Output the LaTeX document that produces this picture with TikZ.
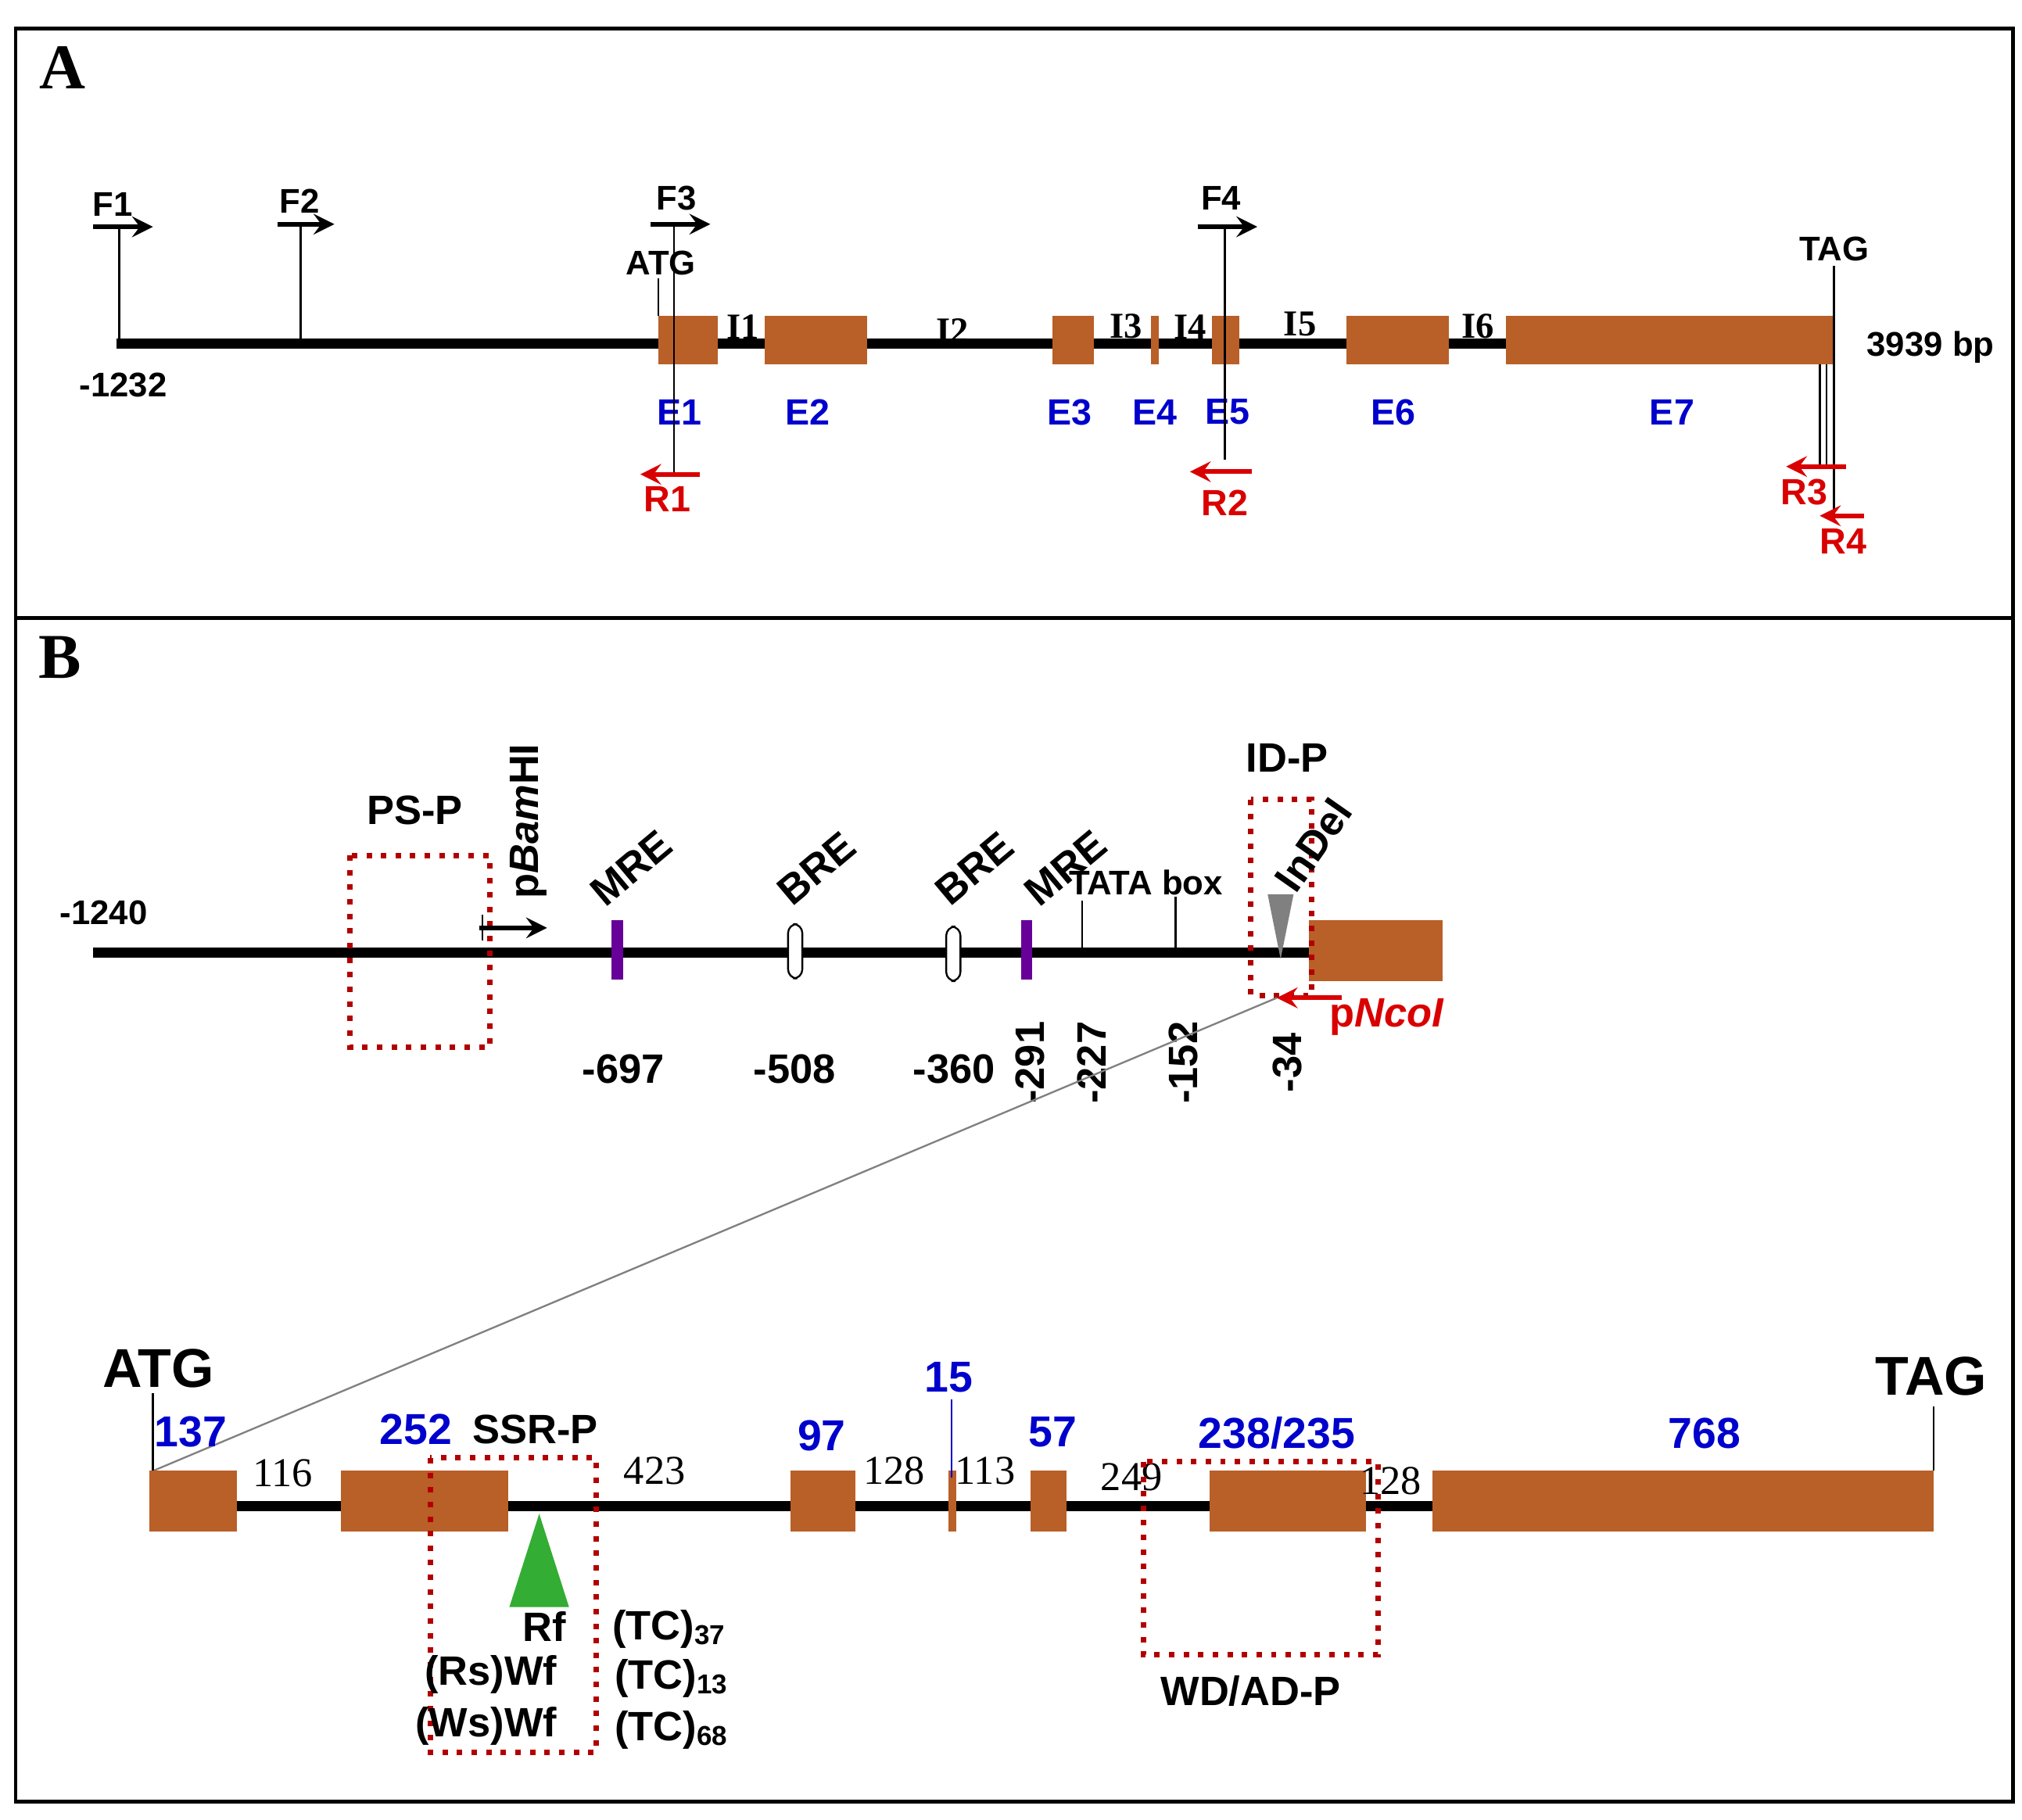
\documentclass[tikz,border=0pt]{standalone}
\usepackage{fontspec}
\setmainfont{Liberation Sans}
\newfontfamily\seriffont{Liberation Serif}
\begin{document}
\begin{tikzpicture}[x=0.01cm,y=-0.01cm,
  bl/.style={font=\bfseries\fontsize{7.5}{9}\selectfont},
  blb/.style={font=\bfseries\fontsize{9}{10}\selectfont},
  blue/.style={font=\bfseries\fontsize{8}{9}\selectfont, text=blue!80!black},
  blueb/.style={font=\bfseries\fontsize{9.5}{11}\selectfont, text=blue!80!black},
  intr/.style={font=\seriffont\bfseries\fontsize{8}{9}\selectfont},
  red/.style={font=\bfseries\fontsize{8}{9}\selectfont, text=red!85!black},
  dbox/.style={draw=red!70!black, dotted, line width=1.2pt},
  fw/.style={-stealth, line width=1pt},
  rv/.style={-stealth, line width=1pt, draw=red!85!black},
  gl/.style={line width=2.2pt}]
\definecolor{ex}{RGB}{185,95,40}
\useasboundingbox (0,0) rectangle (1560,1404);
\draw[line width=0.8pt] (12,22) rectangle (1553,1390);
\draw[line width=0.8pt] (12,477) -- (1553,477);
\node[font=\seriffont\bfseries\fontsize{14}{15}\selectfont] (A) at (48,52) {A};
\node[font=\seriffont\bfseries\fontsize{14}{15}\selectfont] (B) at (46,507) {B};
% ---------------- Panel A
\draw[gl] (90,265) -- (1415,265);
\foreach \a/\b in {508/554,590/669,812/844,888/894,935/956,1039/1118,1162/1415}
  \fill[ex] (\a,244) rectangle (\b,281);
\foreach \x/\t in {524/E1,623/E2,825/E3,891/E4,947/E5,1075/E6,1290/E7}
  \node[blue] at (\x,318) {\t};
\foreach \x/\y/\t in {573/252/I1,735/255/I2,869/252/I3,918/252/I4,1003/250/I5,1140/252/I6}
  \node[intr] at (\x,\y) {\t};
\node[bl] (m1232) at (95,297) {-1232};
\node[bl,anchor=east] (bp) at (1551,268) {3939 bp};
% F1 F2
\draw (92,175) -- (92,265); \draw[fw] (72,175) -- (118,175); \node[bl] at (87,158) {F1};
\draw (232,173) -- (232,265); \draw[fw] (214,173) -- (258,173); \node[bl] at (231,155) {F2};
% F3 / ATG / R1
\draw (520,173) -- (520,366); \draw[fw] (502,173) -- (548,173); \node[bl] at (522,153) {F3};
\draw (508,215) -- (508,244); \node[bl] at (510,203) {ATG};
\draw[rv] (540,366) -- (494,366); \node[red] at (515,385) {R1};
% F4 / R2
\draw (945,173) -- (945,355); \draw[fw] (924,175) -- (970,175); \node[bl] at (942,153) {F4};
\draw[rv] (966,364) -- (918,364); \node[red] at (945,388) {R2};
% TAG R3 R4
\draw (1415,205) -- (1415,398); \node[bl] at (1415,192) {TAG};
\draw (1404,281) -- (1404,360); \draw (1409,281) -- (1409,360);
\draw[rv] (1424,360) -- (1378,360); \node[red] at (1392,380) {R3};
\draw[rv] (1438,398) -- (1404,398); \node[red] at (1422,418) {R4};
% ---------------- Panel B promoter
\draw[gl] (72,735) -- (1010,735);
\fill[ex] (1010,710) rectangle (1113,757);
\node[bl] at (80,704) {-1240};
\draw[dbox] (270,660) rectangle (378,808); \node[blb] at (320,625) {PS-P};
\draw (372,706) -- (372,726); \draw[fw] (370,716) -- (422,716);
\node[blb,rotate=90,anchor=west] at (408,706) {p\textit{Bam}HI};
\fill[violet!80!blue] (472,710) rectangle (481,756);
\fill[violet!80!blue] (788,710) rectangle (796,756);
\draw[rounded corners=2pt,fill=white] (608,713) rectangle (619,755);
\draw[rounded corners=2pt,fill=white] (730,715) rectangle (741,757);
\draw (835,695) -- (835,735); \draw (907,692) -- (907,735);
\node[blb,rotate=40] at (487,670) {MRE};
\node[blb,rotate=40] at (630,670) {BRE};
\node[blb,rotate=40] at (752,670) {BRE};
\node[blb,rotate=40] at (822,670) {MRE};
\node[bl] at (884,681) {TATA box};
\draw[dbox] (965,617) rectangle (1012,768); \node[blb] at (993,585) {ID-P};
\node[blb,rotate=55] at (1013,652) {InDel};
\fill[gray] (978,690) -- (998,690) -- (988,740) -- cycle;
\coordinate (pn) at (985,770);
\draw[rv] (1035,770) -- (pn);
\node[blb,text=red!85!black] at (1070,785) {p\textit{NcoI}};
\foreach \x/\t in {481/-697,613/-508,736/-360}
  \node[blb] at (\x,825) {\t};
\foreach \x/\t in {795/-291,842/-227,913/-152,993/-34}
  \node[blb,rotate=90] at (\x,820) {\t};
% zoom line
\coordinate (g0) at (118,1135);
\draw[gray] (pn) -- (g0);
% ---------------- Panel B gene
\draw[gl] (118,1162) -- (1490,1162);
\foreach \a/\b in {115/183,263/392,610/660,732/738,795/823,933/1054,1105/1492}
  \fill[ex] (\a,1135) rectangle (\b,1182);
\draw (118,1075) -- (118,1135); \node[font=\bfseries\fontsize{12}{14}\selectfont] at (122,1056) {ATG};
\draw (1492,1085) -- (1492,1135); \node[font=\bfseries\fontsize{12}{14}\selectfont] at (1490,1062) {TAG};
\draw[blue!80!black] (734,1080) -- (734,1140);
\foreach \x/\y/\t in {147/1105/137,321/1103/252,634/1108/97,732/1063/15,812/1105/57,985/1106/238\slash 235,1315/1106/768}
  \node[blueb] at (\x,\y) {\t};
\foreach \x/\y/\t in {218/1137/116,505/1135/423,690/1135/128,760/1135/113,873/1140/249,1073/1143/128}
  \node[font=\seriffont\fontsize{9}{10}\selectfont] at (\x,\y) {\t};
\node[blb] at (413,1103) {SSR-P};
\draw[dbox] (332,1125) rectangle (460,1352);
\fill[green!60!black!80] (416,1168) -- (439,1240) -- (393,1240) -- cycle;
\node[blb] at (420,1255) {Rf};
\node[blb,anchor=east] at (442,1292) {(Rs)Wf};
\node[blb,anchor=east] at (442,1332) {(Ws)Wf};
\node[blb,anchor=west] at (460,1257) {(TC)$_{\mathbf{37}}$};
\node[blb,anchor=west] at (462,1295) {(TC)$_{\mathbf{13}}$};
\node[blb,anchor=west] at (462,1335) {(TC)$_{\mathbf{68}}$};
\draw[dbox] (882,1128) rectangle (1063,1277);
\node[blb] at (965,1305) {WD/AD-P};
\end{tikzpicture}
\end{document}
